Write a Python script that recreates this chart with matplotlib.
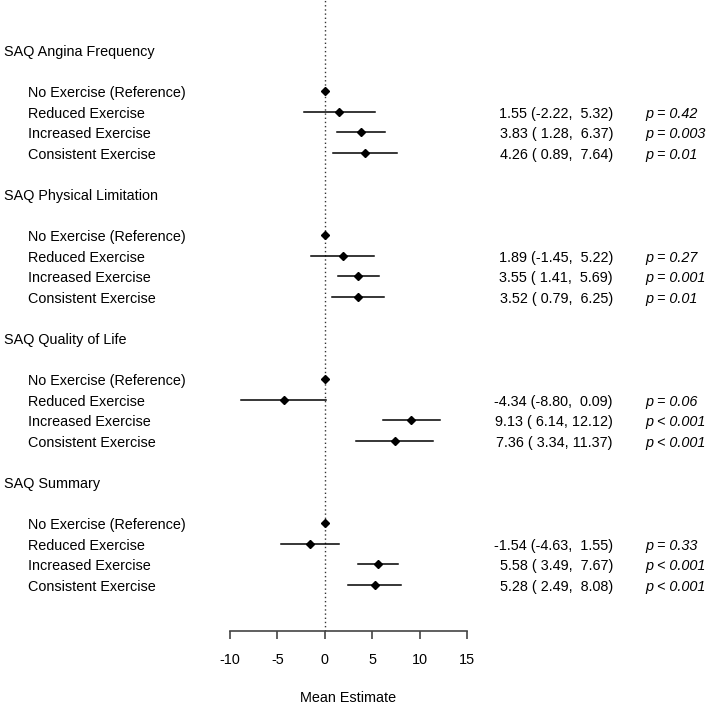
import numpy as np
import matplotlib
matplotlib.use("Agg")
import matplotlib.pyplot as plt
import matplotlib.transforms as mtransforms

plt.rcParams['font.family'] = ['Liberation Sans', 'DejaVu Sans']

outcomes = ["SAQ Angina Frequency", "SAQ Physical Limitation",
            "SAQ Quality of Life", "SAQ Summary"]
groups = ["No Exercise (Reference)", "Reduced Exercise",
          "Increased Exercise", "Consistent Exercise"]

# estimate, lower, upper for Reduced / Increased / Consistent (reference = 0)
est = [[1.55, 3.83, 4.26],
       [1.89, 3.55, 3.52],
       [-4.34, 9.13, 7.36],
       [-1.54, 5.58, 5.28]]
lower = [[-2.22, 1.28, 0.89],
         [-1.45, 1.41, 0.79],
         [-8.80, 6.14, 3.34],
         [-4.63, 3.49, 2.49]]
upper = [[5.32, 6.37, 7.64],
         [5.22, 5.69, 6.25],
         [0.09, 12.12, 11.37],
         [1.55, 7.67, 8.08]]
pvals = [["p = 0.42", "p = 0.003", "p = 0.01"],
         ["p = 0.27", "p = 0.001", "p = 0.01"],
         ["p = 0.06", "p < 0.001", "p < 0.001"],
         ["p = 0.33", "p < 0.001", "p < 0.001"]]

xticks = [-10, -5, 0, 5, 10, 15]

W, H = 709, 706
fig = plt.figure(figsize=(W / 100, H / 100), dpi=100)
ax = fig.add_axes([230 / W, 75 / H, 237 / W, 631 / H])
ax.set_xlim(-10, 15)
ax.set_ylim(28.24, -2.42)

tr = mtransforms.blended_transform_factory(fig.transFigure, ax.transData)
fs = 10.4

ax.axvline(0, color="#333333", lw=1, linestyle=(0, (1, 2)), zorder=1)

for i, name in enumerate(outcomes):
    r0 = i * 7
    ax.text(4 / W, r0 + 0.1, name, transform=tr, fontsize=fs, va="center", ha="left")
    for j, g in enumerate(groups):
        ax.text(28 / W, r0 + 2 + j + 0.1, g, transform=tr, fontsize=fs, va="center", ha="left")
    # reference point
    ax.plot(0, r0 + 2, marker="D", color="black", ms=4, zorder=3)
    for k in range(3):
        y = r0 + 3 + k
        ax.plot([lower[i][k], upper[i][k]], [y, y], color="black", lw=1.1, zorder=2)
        ax.plot(est[i][k], y, marker="D", color="black", ms=4, zorder=3)
        txt = f"{est[i][k]:.2f} ({lower[i][k]:5.2f}, {upper[i][k]:5.2f})"
        ax.text(613 / W, y + 0.1, txt, transform=tr, fontsize=fs, va="center", ha="right")
        ax.text(645 / W, y + 0.1, pvals[i][k], transform=tr, fontsize=fs, va="center",
                ha="left", style="italic")

for s in ["top", "left", "right"]:
    ax.spines[s].set_visible(False)
ax.spines["bottom"].set_bounds(-10, 15)
ax.spines["bottom"].set_color("#444444")
ax.spines["bottom"].set_linewidth(1.2)
ax.set_yticks([])
ax.set_xticks(xticks)
ax.set_xticklabels([str(t) for t in xticks])
ax.tick_params(axis="x", length=6, width=1.2, color="#444444", pad=10, labelsize=fs)
ax.set_xlabel("Mean Estimate", fontsize=fs, labelpad=17)

fig.savefig("out.png", dpi=100)
